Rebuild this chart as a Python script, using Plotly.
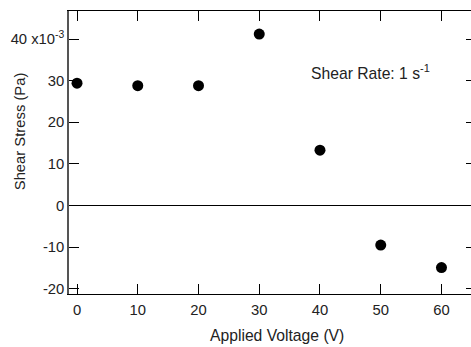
import plotly.graph_objects as go

voltage = [0, 10, 20, 30, 40, 50, 60]
shear_stress = [29.4, 28.8, 28.8, 41.2, 13.3, -9.5, -14.9]

x_ticks = [0, 10, 20, 30, 40, 50, 60]
y_ticks = [-20, -10, 0, 10, 20, 30, 40]
y_ticktext = ["-20", "-10", "0", "10", "20", "30", "40 x10<sup>-3</sup>"]

FONT = "Liberation Sans, Arial, sans-serif"
TXT = "#222222"

fig = go.Figure()
fig.add_trace(go.Scatter(
    x=voltage, y=shear_stress, mode="markers",
    marker=dict(size=11, color="black"),
    showlegend=False, hoverinfo="x+y",
))
# invisible copy so the mirrored right axis is drawn
fig.add_trace(go.Scatter(
    x=voltage, y=shear_stress, mode="markers", yaxis="y2",
    marker=dict(size=1, color="rgba(0,0,0,0)"),
    showlegend=False, hoverinfo="skip",
))

yr = [-21.26, 46.73]
fig.update_layout(
    width=471, height=347,
    margin=dict(l=69, r=0, t=11, b=53),
    paper_bgcolor="white", plot_bgcolor="white",
    font=dict(family=FONT, size=14, color=TXT),
    xaxis=dict(
        range=[-1.32, 64.86], tickvals=x_ticks,
        ticks="inside", ticklen=10, tickcolor="black", tickwidth=1,
        showline=True, linecolor="black", linewidth=1, mirror="ticks",
        showgrid=False, zeroline=False, ticklabelstandoff=2,
        tickfont=dict(size=14.8, color=TXT),
    ),
    yaxis=dict(
        range=yr, tickvals=y_ticks, ticktext=y_ticktext,
        ticks="inside", ticklen=10, tickcolor="black", tickwidth=1,
        showline=True, linecolor="#555555", linewidth=1.5,
        showgrid=False, zeroline=True, zerolinecolor="black", zerolinewidth=1,
        tickfont=dict(size=14.8, color=TXT),
    ),
    yaxis2=dict(
        range=yr, tickvals=y_ticks, overlaying="y", side="right",
        ticks="inside", ticklen=5, tickcolor="black", tickwidth=1,
        showline=False, showticklabels=False, showgrid=False, zeroline=False,
    ),
    annotations=[
        dict(text="Applied Voltage (V)", xref="paper", yref="paper",
             x=0.517, y=-0.148, xanchor="center", yanchor="middle",
             showarrow=False, font=dict(size=15.7, color=TXT)),
        dict(text="Shear Stress (Pa)", xref="paper", yref="paper",
             x=-0.122, y=0.575, xanchor="center", yanchor="middle",
             textangle=-90, showarrow=False, font=dict(size=14.8, color=TXT)),
        dict(text="Shear Rate: 1 s<sup>-1</sup>", xref="paper", yref="paper",
             x=0.5965, y=0.786, xanchor="left", yanchor="middle",
             showarrow=False, font=dict(size=15.7, color=TXT)),
    ],
)

fig.write_html(
    "out.html",
    config={"displayModeBar": False},
    post_script="document.body.style.margin='0';document.body.style.overflow='hidden';",
)
